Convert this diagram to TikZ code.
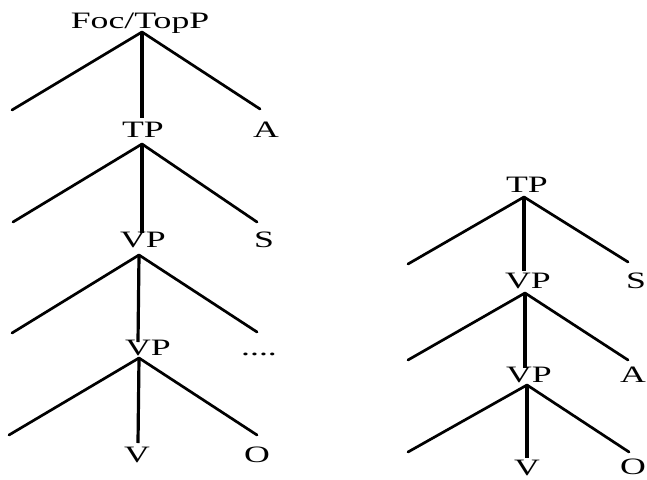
\documentclass[tikz,border=0pt]{standalone}
\usepackage{fontspec}
\setmainfont{Liberation Serif}
\usepackage{graphicx}
\newcommand\stx[1]{\scalebox{1.52}[1]{#1}}
\tikzset{
  lab/.style={inner sep=0pt, anchor=base, font=\fontsize{23.5}{24}\selectfont},
  labw/.style={lab, anchor=base west},
  br/.style={line width=2.7pt, line cap=round, black},
  stem/.style={line width=3.2pt, black}
}
\begin{document}
\begin{tikzpicture}[x=1pt,y=-1pt]
\useasboundingbox (0,0) rectangle (647,479);
% ---------- left tree ----------
\node[lab] (foc) at (140,28) {\stx{Foc/TopP}};
\coordinate (j1) at (142,32);
\coordinate (l1) at (12,110);
\coordinate (v1) at (142,118);
\coordinate (r1) at (260,109);
\node[lab] (tp) at (143,137) {\stx{TP}};
\node[lab] (a) at (266,137) {\stx{A}};
\coordinate (j2) at (142,144);
\coordinate (l2) at (13,222);
\coordinate (v2) at (142,233);
\coordinate (r2) at (257,222);
\node[lab] (vp1) at (143,247) {\stx{VP}};
\node[lab] (s) at (264,247) {\stx{S}};
\coordinate (j3) at (139,255);
\coordinate (l3) at (12,333);
\coordinate (v3) at (138,342);
\coordinate (r3) at (257,332);
\node[lab] (vp2) at (148,355) {\stx{VP}};
\node[lab] (dots) at (259,355) {\stx{....}};
\coordinate (j4) at (139,358);
\coordinate (l4) at (9,435);
\coordinate (v4) at (138,443);
\coordinate (r4) at (257,435);
\node[lab] (v) at (137,462) {\stx{V}};
\node[lab] (o) at (257,462) {\stx{O}};
\draw[br] (j1) -- (l1); \draw[stem] (j1) -- (v1); \draw[br] (j1) -- (r1);
\draw[br] (j2) -- (l2); \draw[stem] (j2) -- (v2); \draw[br] (j2) -- (r2);
\draw[br] (j3) -- (l3); \draw[stem] (j3) -- (v3); \draw[br] (j3) -- (r3);
\draw[br] (j4) -- (l4); \draw[stem] (j4) -- (v4); \draw[br] (j4) -- (r4);
% ---------- right tree ----------
\node[lab] (rtp) at (527,192) {\stx{TP}};
\coordinate (rj1) at (524,197);
\coordinate (rl1) at (408,264);
\coordinate (rv1) at (524,271);
\coordinate (rr1) at (628,262);
\node[lab] (rvp1) at (528,288) {\stx{VP}};
\node[labw] (rs) at (626,288) {\stx{S}};
\coordinate (rj2) at (525,293);
\coordinate (rl2) at (408,360);
\coordinate (rv2) at (525,368);
\coordinate (rr2) at (628,360);
\node[lab] (rvp2) at (529,382) {\stx{VP}};
\node[labw] (ra) at (620,382) {\stx{A}};
\coordinate (rj3) at (527,385);
\coordinate (rl3) at (408,452);
\coordinate (rv3) at (527,458);
\coordinate (rr3) at (629,452);
\node[lab] (rv) at (527,475) {\stx{V}};
\node[labw] (ro) at (620,474) {\stx{O}};
\draw[br] (rj1) -- (rl1); \draw[stem] (rj1) -- (rv1); \draw[br] (rj1) -- (rr1);
\draw[br] (rj2) -- (rl2); \draw[stem] (rj2) -- (rv2); \draw[br] (rj2) -- (rr2);
\draw[br] (rj3) -- (rl3); \draw[stem] (rj3) -- (rv3); \draw[br] (rj3) -- (rr3);
\end{tikzpicture}
\end{document}
